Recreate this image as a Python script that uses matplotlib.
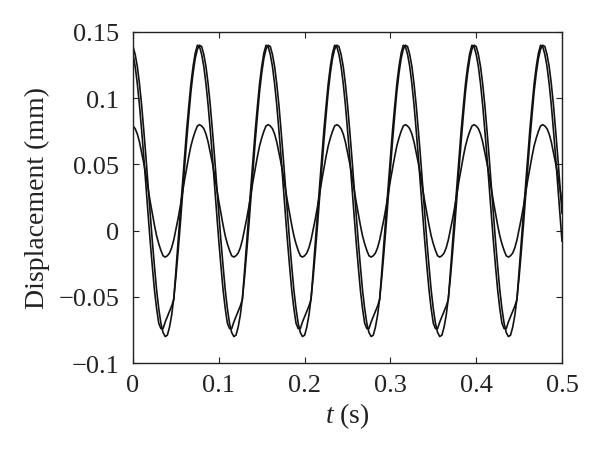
import numpy as np
import matplotlib
matplotlib.use("Agg")
import matplotlib.pyplot as plt

# time grid (s), sampled every 2.5 ms
t = np.round(np.arange(201) * 0.0025, 4)

# large response, smooth
disp_a = [
    0.139, 0.133, 0.124, 0.111, 0.095, 0.076, 0.056, 0.034, 0.013, -0.008, -0.027, -0.045, -0.059, -0.070, -0.077, -0.080,
    -0.079, -0.073, -0.064, -0.051, -0.035, -0.016, 0.004, 0.026, 0.047, 0.068, 0.087, 0.105, 0.119, 0.130, 0.137, 0.140,
    0.139, 0.133, 0.124, 0.111, 0.095, 0.076, 0.056, 0.034, 0.013, -0.008, -0.027, -0.045, -0.059, -0.070, -0.077, -0.080,
    -0.079, -0.073, -0.064, -0.051, -0.035, -0.016, 0.004, 0.026, 0.047, 0.068, 0.087, 0.105, 0.119, 0.130, 0.137, 0.140,
    0.139, 0.133, 0.124, 0.111, 0.095, 0.076, 0.056, 0.034, 0.013, -0.008, -0.027, -0.045, -0.059, -0.070, -0.077, -0.080,
    -0.079, -0.073, -0.064, -0.051, -0.035, -0.016, 0.004, 0.026, 0.047, 0.068, 0.087, 0.105, 0.119, 0.130, 0.137, 0.140,
    0.139, 0.133, 0.124, 0.111, 0.095, 0.076, 0.056, 0.034, 0.013, -0.008, -0.027, -0.045, -0.059, -0.070, -0.077, -0.080,
    -0.079, -0.073, -0.064, -0.051, -0.035, -0.016, 0.004, 0.026, 0.047, 0.068, 0.087, 0.105, 0.119, 0.130, 0.137, 0.140,
    0.139, 0.133, 0.124, 0.111, 0.095, 0.076, 0.056, 0.034, 0.013, -0.008, -0.027, -0.045, -0.059, -0.070, -0.077, -0.080,
    -0.079, -0.073, -0.064, -0.051, -0.035, -0.016, 0.004, 0.026, 0.047, 0.068, 0.087, 0.105, 0.119, 0.130, 0.137, 0.140,
    0.139, 0.133, 0.124, 0.111, 0.095, 0.076, 0.056, 0.034, 0.013, -0.008, -0.027, -0.045, -0.059, -0.070, -0.077, -0.080,
    -0.079, -0.073, -0.064, -0.051, -0.035, -0.016, 0.004, 0.026, 0.047, 0.068, 0.087, 0.105, 0.119, 0.130, 0.137, 0.140,
    0.139, 0.133, 0.124, 0.111, 0.095, 0.076, 0.056, 0.034, 0.013,
]

# large response, leads a little and has a kink after each trough
disp_b = [
    0.133, 0.124, 0.111, 0.095, 0.076, 0.056, 0.034, 0.013, -0.008, -0.027, -0.045, -0.059, -0.070, -0.074, -0.074, -0.069,
    -0.065, -0.061, -0.057, -0.052, -0.030, -0.008, 0.013, 0.034, 0.055, 0.076, 0.094, 0.111, 0.124, 0.134, 0.140, 0.139,
    0.133, 0.124, 0.111, 0.095, 0.076, 0.056, 0.034, 0.013, -0.008, -0.027, -0.045, -0.059, -0.070, -0.074, -0.074, -0.069,
    -0.065, -0.061, -0.057, -0.052, -0.030, -0.008, 0.013, 0.034, 0.055, 0.076, 0.094, 0.111, 0.124, 0.134, 0.140, 0.139,
    0.133, 0.124, 0.111, 0.095, 0.076, 0.056, 0.034, 0.013, -0.008, -0.027, -0.045, -0.059, -0.070, -0.074, -0.074, -0.069,
    -0.065, -0.061, -0.057, -0.052, -0.030, -0.008, 0.013, 0.034, 0.055, 0.076, 0.094, 0.111, 0.124, 0.134, 0.140, 0.139,
    0.133, 0.124, 0.111, 0.095, 0.076, 0.056, 0.034, 0.013, -0.008, -0.027, -0.045, -0.059, -0.070, -0.074, -0.074, -0.069,
    -0.065, -0.061, -0.057, -0.052, -0.030, -0.008, 0.013, 0.034, 0.055, 0.076, 0.094, 0.111, 0.124, 0.134, 0.140, 0.139,
    0.133, 0.124, 0.111, 0.095, 0.076, 0.056, 0.034, 0.013, -0.008, -0.027, -0.045, -0.059, -0.070, -0.074, -0.074, -0.069,
    -0.065, -0.061, -0.057, -0.052, -0.030, -0.008, 0.013, 0.034, 0.055, 0.076, 0.094, 0.111, 0.124, 0.134, 0.140, 0.139,
    0.133, 0.124, 0.111, 0.095, 0.076, 0.056, 0.034, 0.013, -0.008, -0.027, -0.045, -0.059, -0.070, -0.074, -0.074, -0.069,
    -0.065, -0.061, -0.057, -0.052, -0.030, -0.008, 0.013, 0.034, 0.055, 0.076, 0.094, 0.111, 0.124, 0.134, 0.140, 0.139,
    0.133, 0.124, 0.111, 0.095, 0.076, 0.056, 0.034, 0.013, -0.008,
]

# small response
disp_c = [
    0.079, 0.077, 0.073, 0.067, 0.059, 0.051, 0.042, 0.032, 0.022, 0.013, 0.004, -0.004, -0.010, -0.015, -0.019, -0.020,
    -0.019, -0.017, -0.013, -0.007, 0.001, 0.009, 0.018, 0.028, 0.038, 0.047, 0.056, 0.064, 0.070, 0.075, 0.079, 0.080,
    0.079, 0.077, 0.073, 0.067, 0.059, 0.051, 0.042, 0.032, 0.022, 0.013, 0.004, -0.004, -0.010, -0.015, -0.019, -0.020,
    -0.019, -0.017, -0.013, -0.007, 0.001, 0.009, 0.018, 0.028, 0.038, 0.047, 0.056, 0.064, 0.070, 0.075, 0.079, 0.080,
    0.079, 0.077, 0.073, 0.067, 0.059, 0.051, 0.042, 0.032, 0.022, 0.013, 0.004, -0.004, -0.010, -0.015, -0.019, -0.020,
    -0.019, -0.017, -0.013, -0.007, 0.001, 0.009, 0.018, 0.028, 0.038, 0.047, 0.056, 0.064, 0.070, 0.075, 0.079, 0.080,
    0.079, 0.077, 0.073, 0.067, 0.059, 0.051, 0.042, 0.032, 0.022, 0.013, 0.004, -0.004, -0.010, -0.015, -0.019, -0.020,
    -0.019, -0.017, -0.013, -0.007, 0.001, 0.009, 0.018, 0.028, 0.038, 0.047, 0.056, 0.064, 0.070, 0.075, 0.079, 0.080,
    0.079, 0.077, 0.073, 0.067, 0.059, 0.051, 0.042, 0.032, 0.022, 0.013, 0.004, -0.004, -0.010, -0.015, -0.019, -0.020,
    -0.019, -0.017, -0.013, -0.007, 0.001, 0.009, 0.018, 0.028, 0.038, 0.047, 0.056, 0.064, 0.070, 0.075, 0.079, 0.080,
    0.079, 0.077, 0.073, 0.067, 0.059, 0.051, 0.042, 0.032, 0.022, 0.013, 0.004, -0.004, -0.010, -0.015, -0.019, -0.020,
    -0.019, -0.017, -0.013, -0.007, 0.001, 0.009, 0.018, 0.028, 0.038, 0.047, 0.056, 0.064, 0.070, 0.075, 0.079, 0.080,
    0.079, 0.077, 0.073, 0.067, 0.059, 0.051, 0.042, 0.032, 0.022,
]

xticks = [0, 0.1, 0.2, 0.3, 0.4, 0.5]
xticklabels = ["0", "0.1", "0.2", "0.3", "0.4", "0.5"]
yticks = [-0.1, -0.05, 0, 0.05, 0.1, 0.15]
yticklabels = ["\u22120.1", "\u22120.05", "0", "0.05", "0.1", "0.15"]

plt.rcParams["font.family"] = "Liberation Serif"
plt.rcParams["mathtext.fontset"] = "custom"
plt.rcParams["mathtext.it"] = "Liberation Serif:italic"
plt.rcParams["mathtext.rm"] = "Liberation Serif"

fig = plt.figure(figsize=(6, 4.64), dpi=100)
ax = fig.add_axes([0.2217, 0.2155, 0.7150, 0.7134])

for y in (disp_a, disp_b, disp_c):
    ax.plot(t, y, color="#111111", lw=1.2)

ax.set_xlim(0, 0.5)
ax.set_ylim(-0.1, 0.15)
ax.set_xticks(xticks)
ax.set_xticklabels(xticklabels)
ax.set_yticks(yticks)
ax.set_yticklabels(yticklabels)
ax.tick_params(direction="in", top=True, right=True, length=4, width=0.8,
               labelsize=19, colors="#222222")
ax.tick_params(axis="x", pad=8)
ax.tick_params(axis="y", pad=10)
for s in ax.spines.values():
    s.set_linewidth(1.0)
    s.set_color("#222222")

ax.set_xlabel(r"$t$ (s)", fontsize=20, labelpad=3, color="#222222")
ax.set_ylabel("Displacement (mm)", fontsize=20, labelpad=6, color="#222222")

fig.savefig("out.png", dpi=100)
